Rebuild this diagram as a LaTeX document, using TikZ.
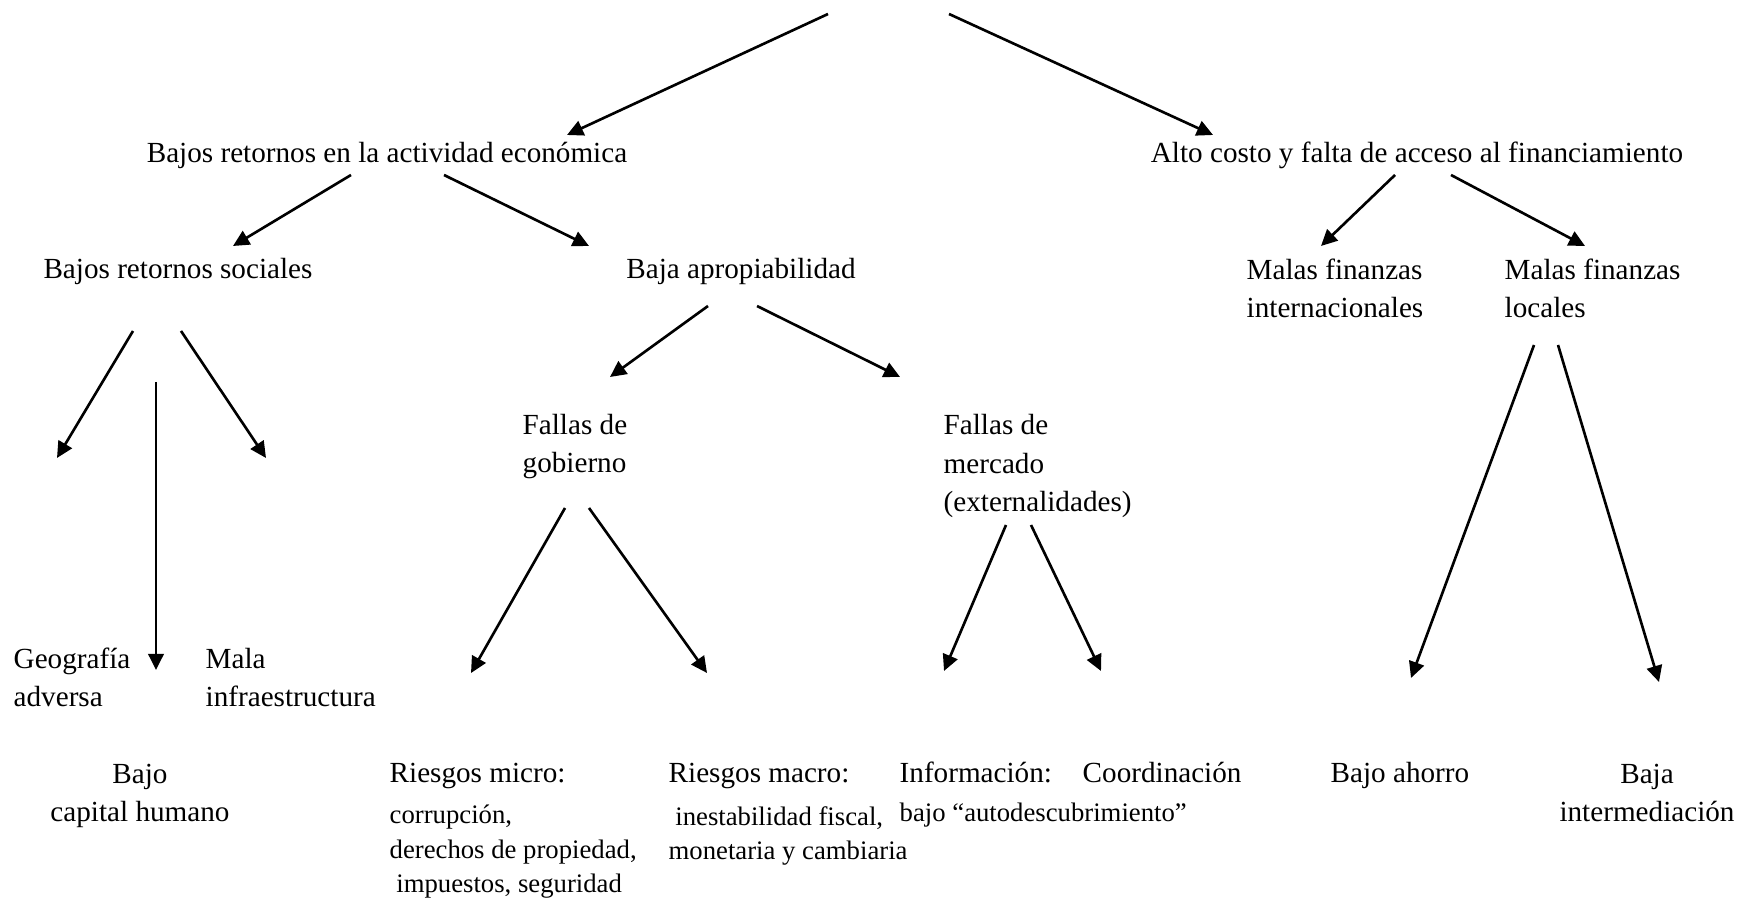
\documentclass[tikz,border=0pt]{standalone}
\usepackage{fontspec}
\setmainfont{Liberation Serif}
\usetikzlibrary{arrows.meta}

\begin{document}
\begin{tikzpicture}[
    flecha/.style={-{Triangle[length=4.6pt, width=4.4pt]}, line width=0.75pt},
    texto/.style={inner sep=0pt, font=\fontsize{8.3}{11}\selectfont, align=left},
    detalle/.style={inner sep=0pt, font=\fontsize{7.6}{9.9}\selectfont, align=left, anchor=base west}]
    \useasboundingbox (0,0) rectangle (17.38,-8.99);

    % primer nivel
    \coordinate (raiz_i) at (8.28,-0.14);
    \coordinate (raiz_d) at (9.49,-0.14);
    \node[texto, anchor=base] (retecon) at (3.87,-1.63) {Bajos retornos en la actividad económica};
    \node[texto, anchor=base] (altocosto) at (14.17,-1.63) {Alto costo y falta de acceso al financiamiento};
    \coordinate (t_retecon) at (5.67,-1.35);
    \coordinate (t_altocosto) at (12.13,-1.35);
    \draw[flecha] (raiz_i) -- (t_retecon);
    \draw[flecha] (raiz_d) -- (t_altocosto);

    % segundo nivel: retornos
    \node[texto, anchor=base] (retsoc) at (1.78,-2.79) {Bajos retornos sociales};
    \node[texto, anchor=base] (apropia) at (7.41,-2.79) {Baja apropiabilidad};
    \coordinate (s_retecon_i) at (3.51,-1.75);
    \coordinate (s_retecon_d) at (4.44,-1.75);
    \coordinate (t_retsoc) at (2.33,-2.46);
    \coordinate (t_apropia) at (5.89,-2.46);
    \draw[flecha] (s_retecon_i) -- (t_retsoc);
    \draw[flecha] (s_retecon_d) -- (t_apropia);

    % segundo nivel: financiamiento (la base es la ultima linea)
    \node[texto, anchor=base west] (malasint) at (12.46,-3.18) {Malas finanzas\\internacionales};
    \node[texto, anchor=base west] (malasloc) at (15.04,-3.18) {Malas finanzas\\locales};
    \coordinate (s_alto_i) at (13.95,-1.75);
    \coordinate (s_alto_d) at (14.51,-1.75);
    \coordinate (t_malasint) at (13.21,-2.46);
    \coordinate (t_malasloc) at (15.85,-2.46);
    \draw[flecha] (s_alto_i) -- (t_malasint);
    \draw[flecha] (s_alto_d) -- (t_malasloc);

    % retornos sociales
    \node[texto, anchor=base west] (geog) at (0.13,-7.07) {Geografía\\adversa};
    \node[texto, anchor=base west] (malainf) at (2.05,-7.07) {Mala\\infraestructura};
    \node[texto, anchor=base, align=center] (capital) at (1.40,-8.22) {Bajo\\capital humano};
    \coordinate (s_retsoc_i) at (1.33,-3.31);
    \coordinate (s_retsoc_c) at (1.56,-3.82);
    \coordinate (s_retsoc_d) at (1.81,-3.31);
    \coordinate (t_geog) at (0.57,-4.58);
    \coordinate (t_capital) at (1.56,-6.70);
    \coordinate (t_malainf) at (2.66,-4.58);
    \draw[flecha] (s_retsoc_i) -- (t_geog);
    \draw[flecha] (s_retsoc_c) -- (t_capital);
    \draw[flecha] (s_retsoc_d) -- (t_malainf);

    % apropiabilidad
    \node[texto, anchor=base west] (fallgob) at (5.22,-4.73) {Fallas de\\gobierno};
    \node[texto, anchor=base west] (fallmer) at (9.43,-5.12) {Fallas de\\mercado\\(externalidades)};
    \coordinate (s_apropia_i) at (7.08,-3.06);
    \coordinate (s_apropia_d) at (7.57,-3.06);
    \coordinate (t_fallgob) at (6.10,-3.77);
    \coordinate (t_fallmer) at (9.00,-3.77);
    \draw[flecha] (s_apropia_i) -- (t_fallgob);
    \draw[flecha] (s_apropia_d) -- (t_fallmer);

    % fallas de gobierno
    \node[texto, anchor=base west] (rmicro) at (3.89,-7.83) {Riesgos micro:};
    \node[detalle] (rmicro_txt) at (3.89,-8.93) {corrupción,\\derechos de propiedad,\\\ impuestos, seguridad};
    \node[texto, anchor=base west] (rmacro) at (6.68,-7.83) {Riesgos macro:};
    \node[detalle] (rmacro_txt) at (6.68,-8.60) {\ inestabilidad fiscal,\\monetaria y cambiaria};
    \coordinate (s_fallgob_i) at (5.65,-5.08);
    \coordinate (s_fallgob_d) at (5.89,-5.08);
    \coordinate (t_rmicro) at (4.71,-6.73);
    \coordinate (t_rmacro) at (7.07,-6.73);
    \draw[flecha] (s_fallgob_i) -- (t_rmicro);
    \draw[flecha] (s_fallgob_d) -- (t_rmacro);

    % fallas de mercado
    \node[texto, anchor=base west] (info) at (8.99,-7.83) {Información:};
    \node[detalle] (info_txt) at (8.99,-8.22) {bajo “autodescubrimiento”};
    \node[texto, anchor=base west] (coord) at (10.82,-7.83) {Coordinación};
    \coordinate (s_fallmer_i) at (10.06,-5.25);
    \coordinate (s_fallmer_d) at (10.31,-5.25);
    \coordinate (t_info) at (9.44,-6.71);
    \coordinate (t_coord) at (11.01,-6.71);
    \draw[flecha] (s_fallmer_i) -- (t_info);
    \draw[flecha] (s_fallmer_d) -- (t_coord);

    % finanzas locales
    \node[texto, anchor=base west] (ahorro) at (13.30,-7.83) {Bajo ahorro};
    \node[texto, anchor=base, align=center] (interm) at (16.47,-8.22) {Baja\\intermediación};
    \coordinate (s_malasloc_i) at (15.34,-3.45);
    \coordinate (s_malasloc_d) at (15.58,-3.45);
    \coordinate (t_ahorro) at (14.11,-6.78);
    \coordinate (t_interm) at (16.59,-6.82);
    \draw[flecha] (s_malasloc_i) -- (t_ahorro);
    \draw[flecha] (s_malasloc_d) -- (t_interm);
\end{tikzpicture}
\end{document}
